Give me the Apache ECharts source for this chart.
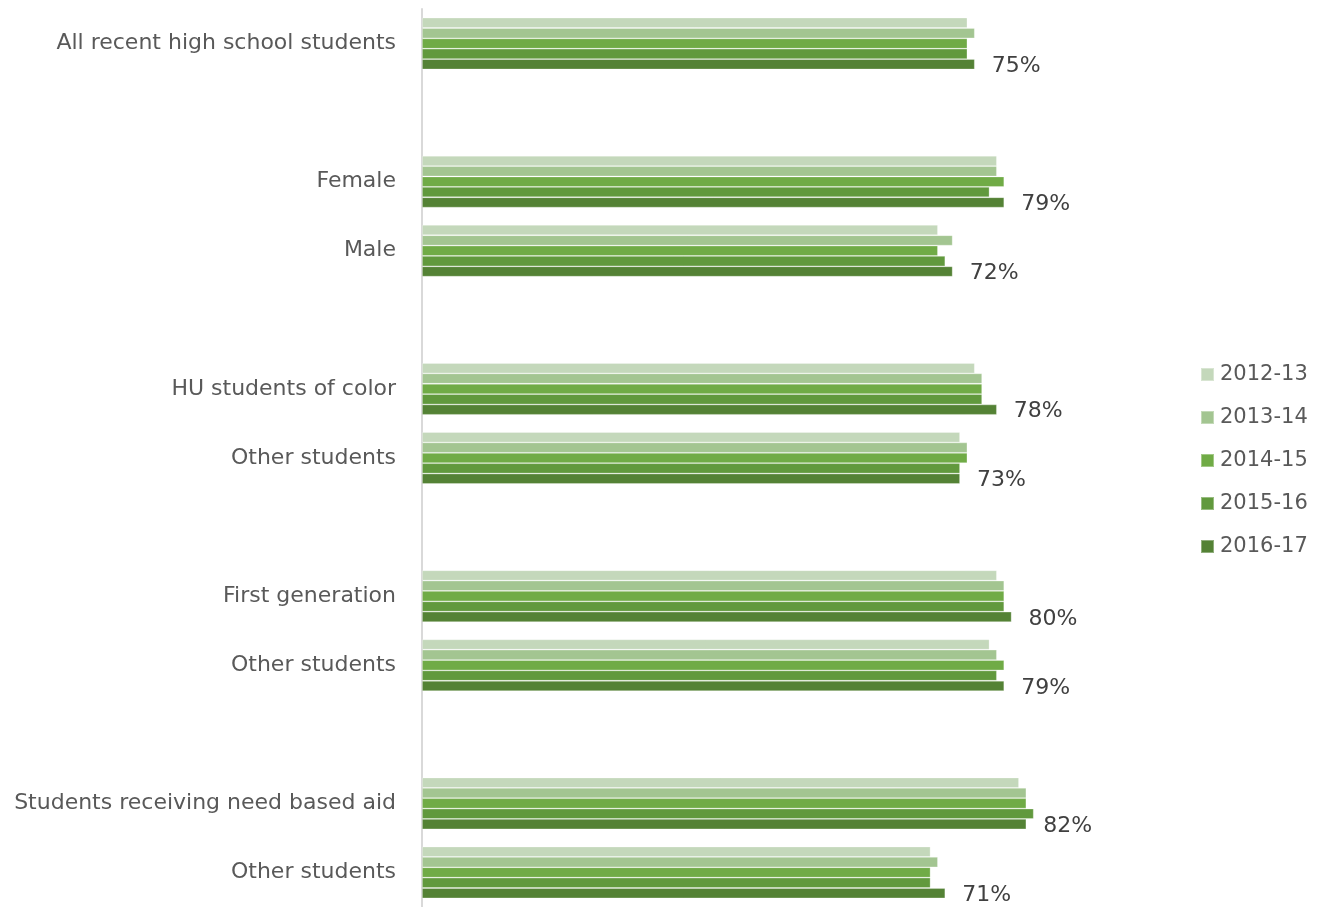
<!DOCTYPE html>
<html>
<head>
<meta charset="utf-8">
<script src="https://cdn.jsdelivr.net/npm/echarts@6/dist/echarts.min.js"></script>
<style>
  html, body { margin: 0; padding: 0; background: #fff; }
  #chart { width: 1322px; height: 907px; }
</style>
</head>
<body>
<div id="chart"></div>
<script>
// categories top to bottom, '' rows are the spacers between groups
const categories = [
    'All recent high school students', '',
    'Female', 'Male', '',
    'HU students of color', 'Other students', '',
    'First generation', 'Other students', '',
    'Students receiving need based aid', 'Other students'
];
const years = ['2012-13', '2013-14', '2014-15', '2015-16', '2016-17'];

const v2012 = [74, null, 78, 70, null, 75, 73, null, 78, 77, null, 81, 69];
const v2013 = [75, null, 78, 72, null, 76, 74, null, 79, 78, null, 82, 70];
const v2014 = [74, null, 79, 70, null, 76, 74, null, 79, 79, null, 82, 69];
const v2015 = [74, null, 77, 71, null, 76, 73, null, 79, 78, null, 83, 69];
const v2016 = [75, null, 79, 72, null, 78, 73, null, 80, 79, null, 82, 71];

const colors = ['#c4d8bb', '#a3c591', '#70ab46', '#61993d', '#548235'];
const FONT = '"DejaVu Sans", sans-serif';

const chart = echarts.init(document.getElementById('chart'));

const seriesData = [v2012, v2013, v2014, v2015, v2016];

const series = years.map(function (name, i) {
    return {
        name: name,
        type: 'bar',
        data: seriesData[i],
        barGap: '0%',
        barCategoryGap: '25%',
        itemStyle: { color: colors[i], borderColor: 'rgba(255,255,255,0.35)', borderWidth: 0.8 },
        label: {
            show: i === years.length - 1,
            position: 'right',
            distance: 17,
            offset: [0, 2],
            formatter: '{c}%',
            color: '#404040',
            fontSize: 22,
            fontFamily: FONT
        }
    };
});

chart.setOption({
    animation: false,
    color: colors,
    grid: { left: 422, top: 9, width: 737, height: 900 },
    legend: {
        orient: 'vertical',
        left: 1200,
        top: 364,
        padding: 0,
        itemWidth: 13,
        itemHeight: 13,
        itemGap: 22,
        icon: 'rect',
        textStyle: { color: '#595959', fontSize: 21, fontFamily: FONT, padding: [0, 0, 0, 1] },
        data: years
    },
    xAxis: {
        type: 'value',
        min: 0,
        max: 100,
        show: false,
        splitLine: { show: false }
    },
    yAxis: {
        type: 'category',
        inverse: true,
        data: categories,
        axisLine: { show: true, lineStyle: { color: '#d9d9d9', width: 2 } },
        axisTick: { show: false },
        axisLabel: { color: '#595959', fontSize: 22, fontFamily: FONT, margin: 26 }
    },
    series: series
});
</script>
</body>
</html>
